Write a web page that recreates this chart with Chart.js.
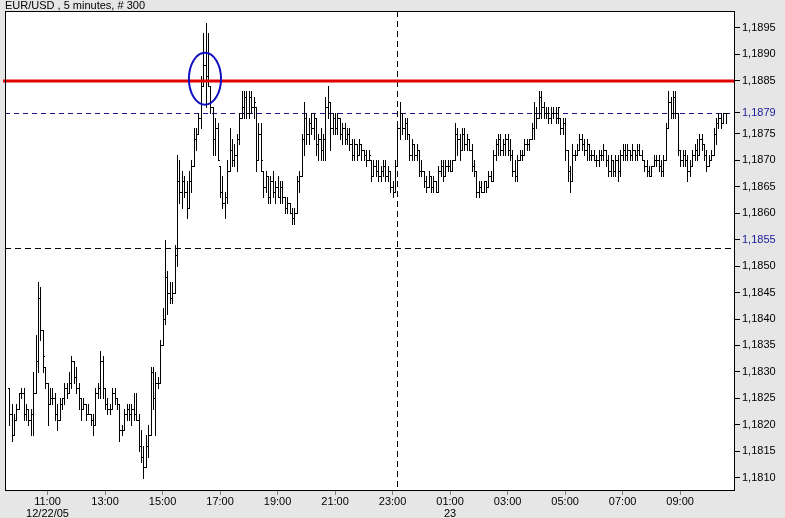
<!DOCTYPE html>
<html>
<head>
<meta charset="utf-8">
<script src="https://cdn.jsdelivr.net/npm/chart.js@4/dist/chart.umd.min.js"></script>
<style>
  html, body { margin: 0; padding: 0; background: #e6e6e6; }
  canvas { display: block; }
</style>
</head>
<body>
<canvas id="fxChart" width="785" height="518"></canvas>
<script>
// EUR/USD 5-minute bars, 12/22/05 09:40 onwards (300 bars)
const high = [
  1.1827,1.1824,1.1822,1.1824,1.1826,1.1827,1.1827,1.1824,1.1823,1.1823,1.1830,1.1837,1.1847,1.1846,1.1838,1.1831,1.1828,1.1827,1.1827,1.1826,
  1.1824,1.1825,1.1825,1.1828,1.1828,1.1830,1.1833,1.1832,1.1831,1.1828,1.1825,1.1825,1.1824,1.1824,1.1822,1.1822,1.1827,1.1828,1.1834,1.1833,
  1.1827,1.1825,1.1824,1.1827,1.1827,1.1825,1.1824,1.1820,1.1823,1.1824,1.1824,1.1824,1.1826,1.1826,1.1822,1.1819,1.1816,1.1818,1.1820,1.1831,
  1.1831,1.1830,1.1829,1.1836,1.1842,1.1855,1.1849,1.1847,1.1847,1.1854,1.1871,1.1870,1.1868,1.1867,1.1866,1.1868,1.1870,1.1876,1.1876,1.1879,
  1.1886,1.1894,1.1896,1.1894,1.1884,1.1880,1.1878,1.1877,1.1869,1.1867,1.1864,1.1870,1.1876,1.1874,1.1873,1.1875,1.1879,1.1883,1.1883,1.1883,
  1.1883,1.1883,1.1882,1.1880,1.1877,1.1877,1.1868,1.1868,1.1867,1.1867,1.1868,1.1866,1.1867,1.1866,1.1866,1.1863,1.1863,1.1862,1.1861,1.1861,
  1.1867,1.1868,1.1875,1.1881,1.1879,1.1878,1.1879,1.1879,1.1878,1.1875,1.1876,1.1875,1.1882,1.1884,1.1881,1.1879,1.1879,1.1879,1.1878,1.1877,
  1.1877,1.1876,1.1876,1.1874,1.1874,1.1873,1.1874,1.1873,1.1872,1.1872,1.1872,1.1870,1.1870,1.1870,1.1870,1.1869,1.1870,1.1870,1.1869,1.1868,
  1.1866,1.1870,1.1877,1.1881,1.1879,1.1878,1.1878,1.1875,1.1874,1.1873,1.1873,1.1872,1.1870,1.1868,1.1867,1.1868,1.1867,1.1867,1.1866,1.1869,
  1.1870,1.1870,1.1870,1.1870,1.1870,1.1870,1.1877,1.1876,1.1875,1.1876,1.1876,1.1875,1.1874,1.1873,1.1870,1.1868,1.1866,1.1866,1.1866,1.1866,
  1.1868,1.1868,1.1872,1.1874,1.1875,1.1875,1.1874,1.1875,1.1875,1.1874,1.1872,1.1870,1.1871,1.1872,1.1872,1.1874,1.1874,1.1874,1.1877,1.1881,
  1.1880,1.1883,1.1883,1.1881,1.1880,1.1880,1.1880,1.1880,1.1880,1.1880,1.1878,1.1878,1.1878,1.1872,1.1869,1.1873,1.1872,1.1873,1.1875,1.1875,
  1.1874,1.1874,1.1873,1.1872,1.1872,1.1871,1.1872,1.1872,1.1873,1.1872,1.1871,1.1871,1.1870,1.1871,1.1871,1.1872,1.1873,1.1873,1.1873,1.1872,
  1.1873,1.1872,1.1873,1.1873,1.1872,1.1870,1.1870,1.1869,1.1869,1.1871,1.1871,1.1871,1.1870,1.1871,1.1877,1.1883,1.1882,1.1883,1.1883,1.1879,
  1.1872,1.1872,1.1872,1.1871,1.1870,1.1872,1.1873,1.1874,1.1875,1.1875,1.1873,1.1872,1.1871,1.1872,1.1876,1.1878,1.1879,1.1879,1.1879,1.1879
];
const low = [
  1.1820,1.1817,1.1818,1.1821,1.1823,1.1825,1.1821,1.1821,1.1820,1.1818,1.1818,1.1826,1.1830,1.1836,1.1830,1.1827,1.1820,1.1824,1.1824,1.1821,
  1.1819,1.1821,1.1823,1.1824,1.1825,1.1826,1.1827,1.1828,1.1826,1.1823,1.1821,1.1823,1.1821,1.1822,1.1820,1.1818,1.1820,1.1825,1.1825,1.1825,
  1.1823,1.1822,1.1822,1.1823,1.1824,1.1823,1.1817,1.1818,1.1819,1.1821,1.1821,1.1820,1.1821,1.1821,1.1815,1.1813,1.1810,1.1812,1.1814,1.1818,
  1.1823,1.1818,1.1827,1.1828,1.1835,1.1839,1.1841,1.1843,1.1843,1.1845,1.1850,1.1862,1.1861,1.1863,1.1859,1.1861,1.1864,1.1869,1.1872,1.1875,
  1.1876,1.1884,1.1880,1.1884,1.1879,1.1871,1.1871,1.1870,1.1863,1.1861,1.1859,1.1862,1.1868,1.1869,1.1869,1.1868,1.1873,1.1878,1.1878,1.1878,
  1.1878,1.1879,1.1878,1.1868,1.1870,1.1868,1.1863,1.1864,1.1862,1.1862,1.1863,1.1862,1.1863,1.1862,1.1862,1.1860,1.1860,1.1860,1.1858,1.1858,
  1.1860,1.1864,1.1867,1.1871,1.1873,1.1873,1.1875,1.1874,1.1871,1.1870,1.1870,1.1870,1.1870,1.1878,1.1872,1.1875,1.1875,1.1875,1.1874,1.1873,
  1.1873,1.1873,1.1872,1.1870,1.1870,1.1870,1.1871,1.1870,1.1870,1.1869,1.1870,1.1866,1.1867,1.1867,1.1866,1.1866,1.1867,1.1866,1.1866,1.1864,
  1.1863,1.1864,1.1869,1.1874,1.1875,1.1874,1.1874,1.1870,1.1870,1.1870,1.1870,1.1867,1.1867,1.1865,1.1864,1.1865,1.1864,1.1864,1.1864,1.1864,
  1.1867,1.1866,1.1867,1.1868,1.1868,1.1868,1.1870,1.1871,1.1870,1.1872,1.1872,1.1872,1.1872,1.1868,1.1867,1.1863,1.1863,1.1864,1.1864,1.1864,
  1.1865,1.1866,1.1866,1.1870,1.1871,1.1871,1.1871,1.1871,1.1871,1.1870,1.1867,1.1866,1.1866,1.1870,1.1870,1.1871,1.1872,1.1872,1.1874,1.1874,
  1.1876,1.1878,1.1878,1.1878,1.1878,1.1877,1.1877,1.1878,1.1877,1.1877,1.1875,1.1875,1.1870,1.1866,1.1864,1.1866,1.1870,1.1871,1.1872,1.1872,
  1.1871,1.1870,1.1870,1.1870,1.1870,1.1869,1.1869,1.1870,1.1870,1.1869,1.1867,1.1867,1.1867,1.1867,1.1866,1.1867,1.1870,1.1870,1.1870,1.1870,
  1.1870,1.1870,1.1870,1.1871,1.1870,1.1868,1.1867,1.1867,1.1867,1.1869,1.1869,1.1868,1.1867,1.1867,1.1870,1.1876,1.1878,1.1878,1.1878,1.1871,
  1.1869,1.1869,1.1869,1.1866,1.1867,1.1869,1.1870,1.1870,1.1871,1.1872,1.1870,1.1868,1.1869,1.1870,1.1871,1.1873,1.1876,1.1876,1.1877,1.1877
];
const open = [
  1.1827,1.1822,1.1818,1.1821,1.1823,1.1826,1.1826,1.1822,1.1823,1.1821,1.1822,1.1826,1.1832,1.1844,1.1838,1.1831,1.1828,1.1824,1.1825,1.1825,
  1.1822,1.1821,1.1824,1.1825,1.1827,1.1826,1.1828,1.1832,1.1829,1.1827,1.1825,1.1823,1.1824,1.1822,1.1822,1.1821,1.1820,1.1826,1.1827,1.1832,
  1.1827,1.1824,1.1823,1.1823,1.1826,1.1825,1.1824,1.1819,1.1819,1.1822,1.1823,1.1822,1.1823,1.1822,1.1821,1.1816,1.1814,1.1812,1.1816,1.1818,
  1.1830,1.1825,1.1828,1.1828,1.1835,1.1840,1.1848,1.1845,1.1844,1.1845,1.1852,1.1866,1.1864,1.1866,1.1864,1.1861,1.1866,1.1869,1.1874,1.1875,
  1.1878,1.1884,1.1888,1.1886,1.1884,1.1880,1.1874,1.1876,1.1869,1.1864,1.1862,1.1863,1.1868,1.1872,1.1870,1.1871,1.1874,1.1878,1.1880,1.1882,
  1.1879,1.1882,1.1880,1.1880,1.1870,1.1875,1.1868,1.1865,1.1867,1.1863,1.1866,1.1864,1.1865,1.1863,1.1865,1.1863,1.1861,1.1862,1.1860,1.1859,
  1.1860,1.1866,1.1867,1.1874,1.1878,1.1875,1.1877,1.1876,1.1878,1.1873,1.1874,1.1872,1.1874,1.1880,1.1881,1.1876,1.1878,1.1876,1.1878,1.1875,
  1.1876,1.1874,1.1875,1.1873,1.1871,1.1873,1.1871,1.1873,1.1872,1.1871,1.1870,1.1870,1.1867,1.1869,1.1868,1.1867,1.1868,1.1869,1.1867,1.1868,
  1.1865,1.1864,1.1869,1.1876,1.1879,1.1876,1.1877,1.1875,1.1871,1.1873,1.1871,1.1872,1.1868,1.1868,1.1866,1.1865,1.1867,1.1865,1.1866,1.1864,
  1.1868,1.1869,1.1867,1.1869,1.1869,1.1868,1.1870,1.1875,1.1874,1.1872,1.1875,1.1873,1.1874,1.1872,1.1869,1.1868,1.1864,1.1865,1.1864,1.1866,
  1.1865,1.1867,1.1866,1.1871,1.1873,1.1874,1.1872,1.1873,1.1874,1.1872,1.1871,1.1868,1.1867,1.1870,1.1871,1.1871,1.1873,1.1873,1.1874,1.1876,
  1.1879,1.1878,1.1882,1.1880,1.1879,1.1879,1.1878,1.1879,1.1879,1.1878,1.1878,1.1876,1.1877,1.1872,1.1868,1.1866,1.1871,1.1871,1.1872,1.1874,
  1.1873,1.1872,1.1873,1.1871,1.1871,1.1870,1.1870,1.1871,1.1871,1.1872,1.1870,1.1868,1.1870,1.1868,1.1870,1.1868,1.1871,1.1872,1.1871,1.1872,
  1.1871,1.1872,1.1871,1.1872,1.1871,1.1870,1.1869,1.1868,1.1867,1.1869,1.1870,1.1870,1.1869,1.1868,1.1870,1.1876,1.1881,1.1879,1.1882,1.1879,
  1.1872,1.1870,1.1871,1.1870,1.1868,1.1869,1.1871,1.1872,1.1871,1.1874,1.1873,1.1871,1.1869,1.1870,1.1871,1.1875,1.1877,1.1878,1.1877,1.1879
];
const close = [
  1.1822,1.1818,1.1821,1.1823,1.1826,1.1826,1.1822,1.1823,1.1821,1.1822,1.1826,1.1832,1.1844,1.1838,1.1833,1.1828,1.1824,1.1825,1.1825,1.1822,
  1.1821,1.1824,1.1825,1.1827,1.1826,1.1828,1.1832,1.1829,1.1827,1.1825,1.1823,1.1824,1.1822,1.1822,1.1821,1.1820,1.1826,1.1827,1.1832,1.1827,
  1.1824,1.1823,1.1823,1.1826,1.1825,1.1824,1.1819,1.1819,1.1822,1.1823,1.1822,1.1823,1.1822,1.1821,1.1816,1.1814,1.1812,1.1816,1.1818,1.1830,
  1.1825,1.1828,1.1828,1.1835,1.1840,1.1848,1.1845,1.1844,1.1845,1.1852,1.1866,1.1864,1.1866,1.1864,1.1861,1.1866,1.1869,1.1874,1.1875,1.1878,
  1.1884,1.1888,1.1886,1.1884,1.1880,1.1874,1.1876,1.1870,1.1864,1.1862,1.1863,1.1868,1.1872,1.1870,1.1871,1.1874,1.1878,1.1880,1.1882,1.1879,
  1.1882,1.1880,1.1881,1.1870,1.1875,1.1870,1.1865,1.1867,1.1863,1.1866,1.1864,1.1865,1.1863,1.1865,1.1863,1.1861,1.1862,1.1860,1.1859,1.1860,
  1.1866,1.1867,1.1874,1.1878,1.1875,1.1877,1.1876,1.1878,1.1873,1.1874,1.1872,1.1874,1.1880,1.1881,1.1876,1.1878,1.1876,1.1878,1.1875,1.1876,
  1.1874,1.1875,1.1873,1.1871,1.1873,1.1871,1.1873,1.1872,1.1871,1.1870,1.1871,1.1867,1.1869,1.1868,1.1867,1.1868,1.1869,1.1867,1.1868,1.1865,
  1.1864,1.1869,1.1876,1.1879,1.1876,1.1877,1.1875,1.1871,1.1873,1.1871,1.1872,1.1868,1.1868,1.1866,1.1865,1.1867,1.1865,1.1866,1.1864,1.1868,
  1.1869,1.1867,1.1869,1.1869,1.1868,1.1870,1.1875,1.1874,1.1872,1.1875,1.1873,1.1874,1.1872,1.1869,1.1868,1.1864,1.1865,1.1864,1.1866,1.1865,
  1.1867,1.1866,1.1871,1.1873,1.1874,1.1872,1.1873,1.1874,1.1872,1.1871,1.1868,1.1867,1.1870,1.1871,1.1871,1.1873,1.1873,1.1874,1.1876,1.1879,
  1.1878,1.1882,1.1880,1.1879,1.1879,1.1878,1.1879,1.1879,1.1878,1.1880,1.1876,1.1877,1.1872,1.1868,1.1866,1.1871,1.1871,1.1872,1.1874,1.1873,
  1.1872,1.1873,1.1871,1.1871,1.1870,1.1870,1.1871,1.1871,1.1872,1.1870,1.1868,1.1870,1.1868,1.1870,1.1868,1.1871,1.1872,1.1871,1.1872,1.1871,
  1.1872,1.1871,1.1872,1.1871,1.1870,1.1869,1.1868,1.1867,1.1869,1.1870,1.1870,1.1869,1.1868,1.1870,1.1876,1.1881,1.1879,1.1882,1.1879,1.1872,
  1.1870,1.1871,1.1870,1.1868,1.1869,1.1871,1.1872,1.1871,1.1874,1.1873,1.1871,1.1869,1.1870,1.1871,1.1875,1.1877,1.1878,1.1877,1.1879,1.1879
];

const firstBarMinute = 9 * 60 + 40; // 09:40, 5 minutes per bar
const tickTimes = ['11:00', '13:00', '15:00', '17:00', '19:00', '21:00', '23:00', '01:00', '03:00', '05:00', '07:00', '09:00'];
const tickDates = ['12/22/05', '', '', '', '', '', '', '23', '', '', '', ''];
const priceTicks = [1.1810, 1.1815, 1.1820, 1.1825, 1.1830, 1.1835, 1.1840, 1.1845, 1.1850, 1.1855,
                    1.1860, 1.1865, 1.1870, 1.1875, 1.1879, 1.1885, 1.1890, 1.1895];
const markedPrices = [1.1879, 1.1855];

// drawn levels and marks
const redLevel = 1.1885;
const blueLevel = 1.1879;
const blackLevel = 1.18535;
const splitBar = 162;
const ring = { bar: 81.7, price: 1.18854, bars: 6.7, span: 0.00049 };

const pad2 = n => String(n).padStart(2, '0');
const barTimes = high.map((_, i) => {
    const m = (firstBarMinute + 5 * i) % 1440;
    return pad2(Math.floor(m / 60)) + ':' + pad2(m % 60);
});
const tickBars = tickTimes.map(t => barTimes.indexOf(t));

const fxPlot = {
    id: 'fxPlot',
    beforeDraw(chart) {
        const { ctx, chartArea: a } = chart;
        ctx.save();
        ctx.fillStyle = '#e6e6e6';
        ctx.fillRect(0, 0, chart.width, chart.height);
        ctx.fillStyle = '#ffffff';
        ctx.fillRect(a.left, a.top, a.right - a.left, a.bottom - a.top);
        ctx.restore();
    },
    afterDatasetsDraw(chart) {
        const { ctx, chartArea: a, scales: { x, y } } = chart;
        const snap = v => Math.round(v) + 0.5;
        ctx.save();
        ctx.lineWidth = 1;

        // dashed guides
        ctx.setLineDash([5, 4]);
        ctx.strokeStyle = '#1a1a8c';
        ctx.beginPath();
        ctx.moveTo(a.left, snap(y.getPixelForValue(blueLevel)));
        ctx.lineTo(a.right, snap(y.getPixelForValue(blueLevel)));
        ctx.stroke();
        ctx.strokeStyle = '#000000';
        ctx.setLineDash([6, 4]);
        ctx.beginPath();
        ctx.moveTo(a.left, snap(y.getPixelForValue(blackLevel)));
        ctx.lineTo(a.right, snap(y.getPixelForValue(blackLevel)));
        ctx.moveTo(snap(x.getPixelForValue(splitBar)), a.top);
        ctx.lineTo(snap(x.getPixelForValue(splitBar)), a.bottom);
        ctx.stroke();
        ctx.setLineDash([]);

        // OHLC bars
        ctx.strokeStyle = '#000000';
        ctx.beginPath();
        for (let i = 0; i < high.length; i++) {
            const px = snap(x.getPixelForValue(i));
            const yh = Math.round(y.getPixelForValue(high[i]));
            const yl = Math.round(y.getPixelForValue(low[i]));
            const yo = snap(y.getPixelForValue(open[i]));
            const yc = snap(y.getPixelForValue(close[i]));
            ctx.moveTo(px, yh);
            ctx.lineTo(px, yl + 1);
            ctx.moveTo(px - 1.5, yo);
            ctx.lineTo(px, yo);
            ctx.moveTo(px, yc);
            ctx.lineTo(px + 1.5, yc);
        }
        ctx.stroke();

        // red level
        ctx.strokeStyle = '#e00000';
        ctx.lineWidth = 3;
        ctx.beginPath();
        ctx.moveTo(a.left - 2, Math.round(y.getPixelForValue(redLevel)));
        ctx.lineTo(a.right, Math.round(y.getPixelForValue(redLevel)));
        ctx.stroke();

        // ring around the spike
        const cx = x.getPixelForValue(ring.bar);
        const cy = y.getPixelForValue(ring.price);
        const rx = x.getPixelForValue(ring.bar + ring.bars) - cx;
        const ry = cy - y.getPixelForValue(ring.price + ring.span);
        ctx.strokeStyle = '#1010c0';
        ctx.lineWidth = 2;
        ctx.beginPath();
        ctx.ellipse(cx, cy, rx, ry, 0, 0, Math.PI * 2);
        ctx.stroke();
        ctx.restore();
    },
    afterDraw(chart) {
        const { ctx, chartArea: a } = chart;
        ctx.save();
        ctx.strokeStyle = '#000000';
        ctx.lineWidth = 1;
        ctx.strokeRect(Math.round(a.left) + 0.5, Math.round(a.top) + 0.5,
                       Math.round(a.right - a.left) - 1, Math.round(a.bottom - a.top) - 1);
        ctx.restore();
    }
};

const labelFont = { family: '"Liberation Sans", Arial, sans-serif', size: 11, lineHeight: 1.1 };

new Chart(document.getElementById('fxChart'), {
    type: 'line',
    data: {
        datasets: [{
            data: close.map((c, i) => ({ x: i, y: c })),
            showLine: false,
            pointRadius: 0,
            borderWidth: 0
        }]
    },
    options: {
        responsive: false,
        animation: false,
        events: [],
        layout: { padding: { left: 5, top: 0, right: 0, bottom: 0 } },
        plugins: {
            legend: { display: false },
            tooltip: { enabled: false },
            title: {
                display: true,
                text: 'EUR/USD , 5 minutes, # 300',
                align: 'start',
                color: '#000000',
                font: { family: '"Liberation Sans", Arial, sans-serif', size: 11, weight: 'normal', lineHeight: 1 },
                padding: { top: 0, bottom: 0 }
            }
        },
        scales: {
            x: {
                type: 'linear',
                min: -1.75,
                max: 302.9,
                afterBuildTicks: scale => { scale.ticks = tickBars.map(v => ({ value: v })); },
                afterFit: scale => { scale.height = 27; },
                border: { display: false },
                grid: { drawOnChartArea: false, drawTicks: true, tickLength: 4, color: '#808080' },
                ticks: {
                    autoSkip: false,
                    maxRotation: 0,
                    padding: 1,
                    color: '#000000',
                    font: labelFont,
                    callback: value => {
                        const k = tickBars.indexOf(value);
                        if (k < 0) return '';
                        return tickDates[k] ? [tickTimes[k], tickDates[k]] : tickTimes[k];
                    }
                }
            },
            y: {
                type: 'linear',
                position: 'right',
                min: 1.18075,
                max: 1.18982,
                afterBuildTicks: scale => { scale.ticks = priceTicks.map(v => ({ value: v })); },
                afterFit: scale => { scale.width = 50; },
                border: { display: false },
                grid: { drawOnChartArea: false, drawTicks: true, tickLength: 5, color: '#000000' },
                ticks: {
                    padding: 2,
                    font: labelFont,
                    color: c => markedPrices.some(p => Math.abs(p - c.tick.value) < 1e-7) ? '#1a1a9c' : '#000000',
                    callback: value => value.toFixed(4).replace('.', ',')
                }
            }
        }
    },
    plugins: [fxPlot]
});
</script>
</body>
</html>
